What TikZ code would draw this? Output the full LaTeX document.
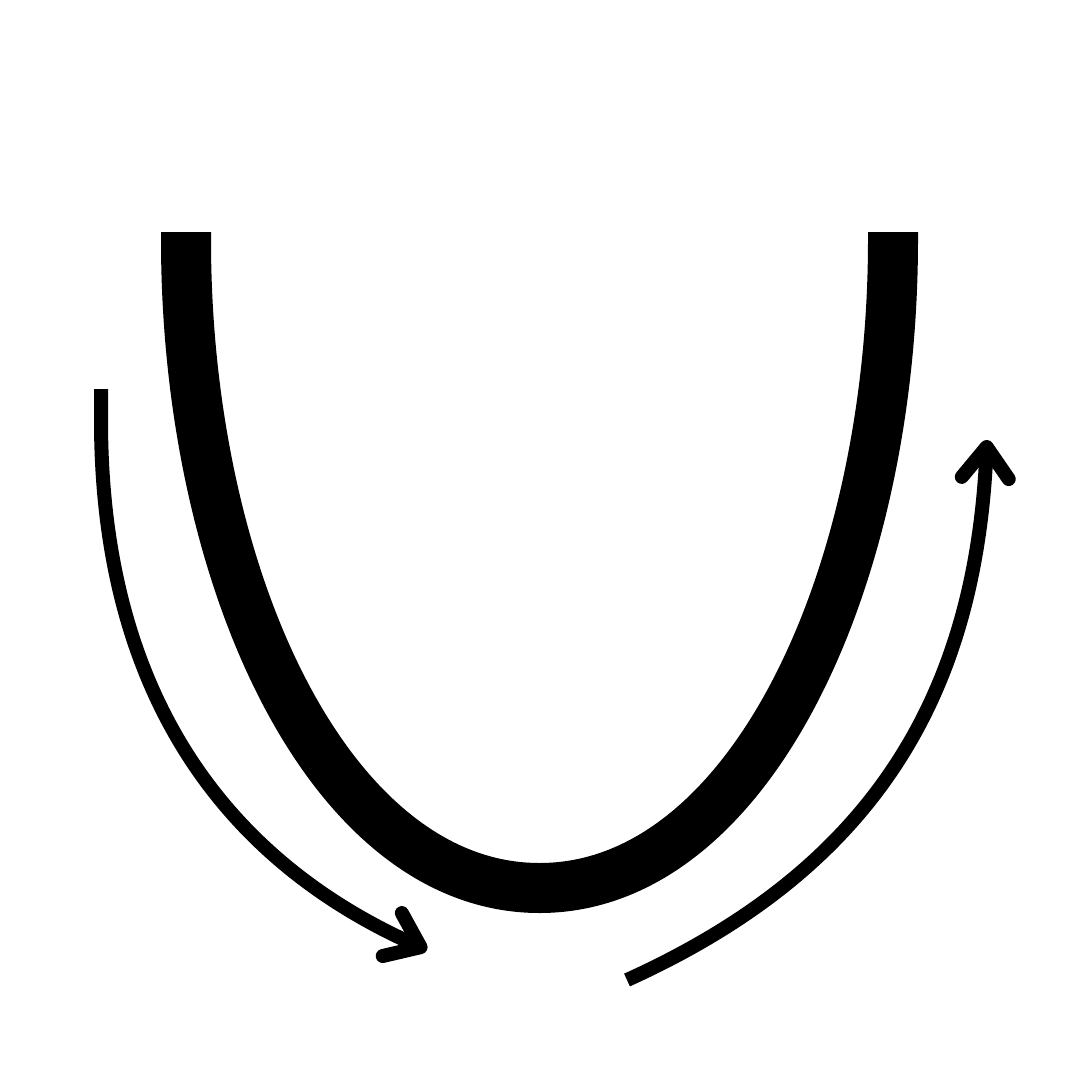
\documentclass[tikz,border=0pt]{standalone}
\usetikzlibrary{arrows.meta}
\begin{document}
\begin{tikzpicture}[x=1pt,y=-1pt,
  ushape/.style={line width=50pt,line cap=butt},
  flow/.style={line width=14pt,line cap=butt,-{Straight Barb[length=31pt,width=47pt,round]}}]
\useasboundingbox[fill=white] (0,0) rectangle (1080,1080);
\coordinate (ul) at (186,232);
\coordinate (ur) at (893,232);
\coordinate (ub) at (539.5,888);
\draw[ushape] (ul) -- (186,240) .. controls (186,580) and (330,888) .. (ub)
  .. controls (749,888) and (893,580) .. (893,240) -- (ur);
\coordinate (as) at (101,389);
\coordinate (ae) at (427,950);
\draw[flow] (as) -- (101,420) .. controls (101,740) and (270,880) .. (ae);
\coordinate (bs) at (627,980);
\coordinate (be) at (987,440);
\draw[flow] (bs) .. controls (870,870) and (975,700) .. (be);
\end{tikzpicture}
\end{document}
